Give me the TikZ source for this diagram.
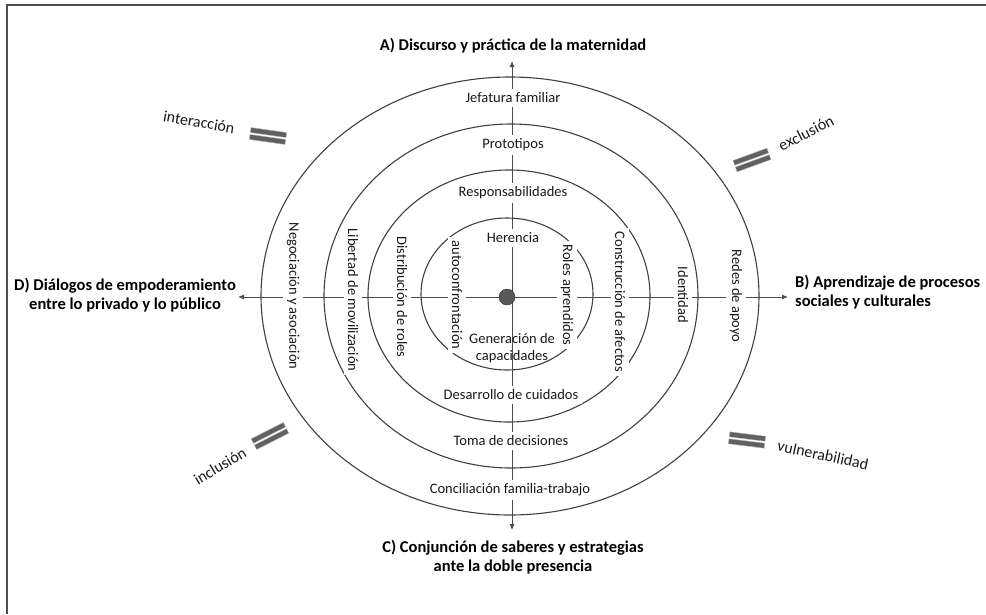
\documentclass[tikz,border=0pt]{standalone}
\usepackage{fontspec}
\setmainfont{Carlito}
\usetikzlibrary{arrows.meta}
\newcommand\eqbars[3]{%
  \begin{scope}[shift={(#1,#2)}, rotate=#3]
    \path[eqbar] (-18,-6) rectangle (18,-1);
    \path[eqbar] (-18,1) rectangle (18,6);
  \end{scope}}
\begin{document}
\begin{tikzpicture}[x=1pt,y=-1pt,
  ringline/.style={draw=black!75, line width=1.1pt},
  axisline/.style={draw=black!70, line width=0.8pt, -{Latex[length=6pt,width=5pt]}},
  lbl/.style={fill=white, inner sep=4pt, text=black!90, font=\fontsize{14.5}{17}\selectfont},
  vlbl/.style={lbl, rotate=-90},
  ttl/.style={font=\bfseries\fontsize{16.5}{18.5}\selectfont, align=center, inner sep=0pt, text=black},
  tiltlbl/.style={font=\fontsize{16}{18}\selectfont, inner sep=0pt, text=black!90},
  eqbar/.style={fill=black!62, draw=black!30, line width=0.4pt},
]
\useasboundingbox (0,0) rectangle (986,614);
% frame
\draw[black!70, line width=1.6pt] (7,614) -- (7,5) -- (986,5);

% axes
\coordinate (vc) at (512,297);
\coordinate (aT) at (512,61);
\coordinate (aB) at (512,530);
\coordinate (aL) at (238,297);
\coordinate (aR) at (788,297);
\draw[axisline] (vc) -- (aT);
\draw[axisline] (vc) -- (aB);
\draw[axisline] (vc) -- (aL);
\draw[axisline] (vc) -- (aR);

% rings
\draw[ringline] (510,296) ellipse [x radius=249pt, y radius=219pt];
\draw[ringline] (511,296) ellipse [x radius=187pt, y radius=172pt];
\draw[ringline] (509,296) ellipse [x radius=141pt, y radius=126pt];
\draw[ringline] (507,294) ellipse [x radius=86pt, y radius=76pt];

% centre dot
\node[circle, fill=black!65, draw=black!80, minimum size=16pt, inner sep=0pt] (dot) at (507,297) {};

% horizontal labels
\node[lbl] (jef) at (513,98) {Jefatura familiar};
\node[lbl] (pro) at (513,145) {Prototipos};
\node[lbl] (res) at (513,193) {Responsabilidades};
\node[lbl] (her) at (513,238) {Herencia};
\node[lbl, fill=none, inner sep=0pt, align=center] (gen) at (512,348) {Generación de\\capacidades};
\node[lbl] (des) at (511,395) {Desarrollo de cuidados};
\node[lbl] (tom) at (511,441) {Toma de decisiones};
\node[lbl] (con) at (510,490) {Conciliación familia-trabajo};

% vertical labels
\node[vlbl] (neg) at (293,296) {Negociación y asociación};
\node[vlbl] (lib) at (353,300) {Libertad de movilización};
\node[vlbl] (dis) at (402,297) {Distribución de roles};
\node[vlbl] (aut) at (457,295) {autoconfrontación};
\node[vlbl] (rol) at (567,295) {Roles aprendidos};
\node[vlbl] (cons) at (620,302) {Construcción de afectos};
\node[vlbl] (ide) at (683,295) {Identidad};
\node[vlbl] (red) at (736,296) {Redes de apoyo};

% titles
\node[ttl] (tA) at (513,46) {A) Discurso y práctica de la maternidad};
\node[ttl] (tC) at (513,557) {C) Conjunción de saberes y estrategias\\ante la doble presencia};
\node[ttl] (tD) at (125,295) {D) Diálogos de empoderamiento\\entre lo privado y lo público};
\node[ttl, align=left, anchor=west] (tB) at (795,292) {B) Aprendizaje de procesos\\sociales y culturales};

% tilted tags
\node[tiltlbl, rotate=-10] (tint) at (199,122) {interacción};
\node[tiltlbl, rotate=27] (texc) at (806,133) {exclusión};
\node[tiltlbl, rotate=31] (tinc) at (220,466) {inclusión};
\node[tiltlbl, rotate=-12] (tvul) at (823,455) {vulnerabilidad};

\eqbars{268}{136}{-8}
\eqbars{752}{160}{20}
\eqbars{270}{436}{27}
\eqbars{747}{440}{-7}
\end{tikzpicture}
\end{document}
